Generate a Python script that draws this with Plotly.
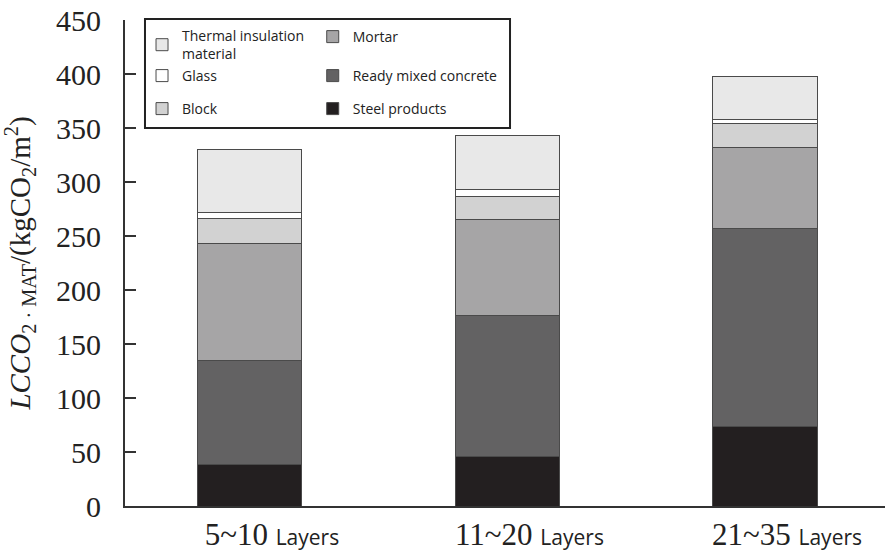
import plotly.graph_objects as go

categories = ["5~10", "11~20", "21~35"]
tick_labels = [
    '5~10 <span style="font-family:Open Sans;font-size:21px">Layers</span>',
    '11~20 <span style="font-family:Open Sans;font-size:21px">Layers</span>',
    '21~35 <span style="font-family:Open Sans;font-size:21px">Layers</span>',
]

steel = [38, 46, 74]
concrete = [97, 130, 183]
mortar = [108, 89, 75]
block = [23, 22, 22]
glass = [6, 6, 4]
thermal = [58, 50, 40]

# name, values, colour, legend id, legend x, legend top y (paper)
series = [
    ("Steel products", steel, "#231f20", "legend6", 0.247, 0.8498),
    ("Ready mixed concrete", concrete, "#636263", "legend5", 0.247, 0.9177),
    ("Mortar", mortar, "#a6a5a6", "legend4", 0.247, 0.9979),
    ("Block", block, "#d2d2d2", "legend3", 0.0224, 0.8498),
    ("Glass", glass, "#ffffff", "legend2", 0.0224, 0.9177),
    ("Thermal insulation<br>material", thermal, "#e8e8e8", "legend", 0.0224, 1.0),
]

W, H = 885, 560

fig = go.Figure()
legfont = dict(family="Open Sans", size=14, color="#222")
legends = {}
for name, vals, color, leg, lx, ly in series:
    fig.add_trace(go.Bar(
        x=list(range(len(categories))), y=vals, name=name,
        marker=dict(color=color, line=dict(color="#4a4a4a", width=1)),
        width=0.404, legend=leg, showlegend=True,
    ))
    legends[leg] = dict(
        x=lx, y=ly, xanchor="left", yanchor="top", orientation="v",
        bgcolor="rgba(0,0,0,0)", borderwidth=0, font=legfont,
    )

fig.update_layout(
    barmode="stack",
    showlegend=True,
    width=W, height=H,
    margin=dict(l=125, r=0, t=20, b=54),
    plot_bgcolor="white", paper_bgcolor="white",
    font=dict(family="Liberation Serif", color="#222"),
    shapes=[dict(
        type="rect", xref="paper", yref="paper",
        x0=0.0263, x1=0.5066, y0=0.7778, y1=1.002,
        line=dict(color="#222", width=2), fillcolor="white", layer="above",
    )],
    xaxis=dict(
        range=[-0.485, 2.466], tickmode="array",
        tickvals=list(range(len(categories))), ticktext=tick_labels,
        showline=True, linecolor="#333", linewidth=2, ticks="",
        tickfont=dict(family="Liberation Serif", size=31, color="#222"),
        ticklabelshift=22, showgrid=False, zeroline=False, automargin=False,
        ticklabeloverflow="allow",
    ),
    yaxis=dict(
        range=[0, 450], tickvals=list(range(0, 451, 50)),
        showline=True, linecolor="#333", linewidth=2,
        ticks="inside", ticklen=11, tickwidth=2, tickcolor="#333",
        tickfont=dict(family="Liberation Serif", size=30, color="#222"),
        ticklabelstandoff=16, showgrid=False, zeroline=False, automargin=False,
        ticklabeloverflow="allow",
        title=dict(
            text="<i>LCCO</i><sub>2 · MAT</sub>/(kgCO<sub>2</sub>/m<sup>2</sup>)",
            font=dict(family="Liberation Serif", size=29, color="#222"),
            standoff=17,
        ),
    ),
    **legends,
)

fig.write_html(
    "out.html",
    config={"displayModeBar": False},
    post_script="document.body.style.margin='0';",
)
